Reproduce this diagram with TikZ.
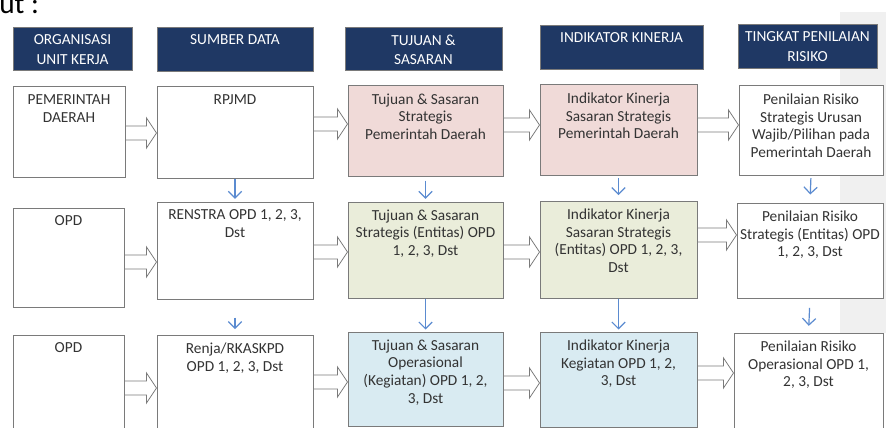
\documentclass[tikz,border=0pt]{standalone}
\usepackage{fontspec}
\setmainfont{Carlito}
\usepackage{tikz}
\usetikzlibrary{calc,arrows.meta}

\definecolor{navy}{HTML}{1F3864}
\definecolor{pinkfill}{HTML}{F0DAD8}
\definecolor{greenfill}{HTML}{EAEDDA}
\definecolor{bluefill}{HTML}{D9EBF2}
\definecolor{edge}{HTML}{7A7A7A}
\definecolor{ink}{HTML}{333333}
\definecolor{arrowblue}{HTML}{5B8BD0}
\definecolor{band}{HTML}{F0F0F0}

\newlength\unitpx
\setlength\unitpx{0.75pt}

% hollow block arrow: from node, to node, y
\newcommand\hollowarrow[3]{%
  \draw[hollow] ($(#1.east |- 0,#3)+(0,-7)$) -- ($(#2.west |- 0,#3)+(-10,-7)$) -- ++(0,-8)
    -- (#2.west |- 0,#3) -- ++(-10,15) -- ++(0,-8) -- ($(#1.east |- 0,#3)+(0,7)$) -- cycle;}

\begin{document}
\begin{tikzpicture}[x=0.75pt, y=-0.75pt,
  head/.style={draw=edge, fill=navy, line width=0.6pt, inner sep=0pt},
  box/.style={draw=edge, fill=white, line width=0.75pt, inner sep=0pt},
  headtext/.style={text=white, align=center, inner sep=0pt, font=\fontsize{11.5}{14.6}\selectfont},
  boxtext/.style={text=ink, align=center, inner sep=0pt, font=\fontsize{11.5}{13.2}\selectfont},
  hollow/.style={draw=edge, fill=white, line width=0.6pt},
  down/.style={draw=arrowblue, line width=0.9pt, -{Straight Barb[length=5pt, width=10pt]}}]
\useasboundingbox (0,0) rectangle (886,428);
\clip (0,0) rectangle (886,428);
\fill[band] (840,12) rectangle (886,333);
\node[anchor=base west, inner sep=0pt, font=\fontsize{22}{22}\selectfont] (Fragment) at (-1,14) {ut :};

% header row
\node[head, minimum width=119\unitpx, minimum height=43\unitpx] (Head1) at (72.5,48.5) {};
\node[head, minimum width=156\unitpx, minimum height=44\unitpx] (Head2) at (235,49) {};
\node[head, minimum width=157\unitpx, minimum height=43\unitpx] (Head3) at (423.5,48.5) {};
\node[head, minimum width=163\unitpx, minimum height=44\unitpx] (Head4) at (621.5,47) {};
\node[head, minimum width=139\unitpx, minimum height=44\unitpx] (Head5) at (807.5,46) {};
\node[headtext, anchor=north] (HeadText1) at ([yshift=-6pt]Head1.north) {ORGANISASI\\UNIT KERJA};
\node[headtext, anchor=north] (HeadText2) at ([yshift=-6pt]Head2.north) {SUMBER DATA};
\node[headtext, anchor=north] (HeadText3) at ([yshift=-6pt]Head3.north) {TUJUAN \&\\SASARAN};
\node[headtext, anchor=north] (HeadText4) at ([yshift=-6pt]Head4.north) {INDIKATOR KINERJA};
\node[headtext, anchor=north] (HeadText5) at ([yshift=-6pt]Head5.north) {TINGKAT PENILAIAN\\RISIKO};

% row 1
\node[box, minimum width=112\unitpx, minimum height=90\unitpx] (Box11) at (69,132) {};
\node[box, minimum width=156\unitpx, minimum height=91\unitpx] (Box12) at (235,132.5) {};
\node[box, fill=pinkfill, minimum width=155\unitpx, minimum height=90\unitpx] (Box13) at (425.5,131) {};
\node[box, fill=pinkfill, minimum width=157\unitpx, minimum height=90\unitpx] (Box14) at (618.5,130) {};
\node[box, minimum width=144\unitpx, minimum height=89\unitpx] (Box15) at (811,130.5) {};

% row 2
\node[box, minimum width=111\unitpx, minimum height=99\unitpx] (Box21) at (68.5,257.5) {};
\node[box, minimum width=156\unitpx, minimum height=97\unitpx] (Box22) at (235,250.5) {};
\node[box, fill=greenfill, minimum width=155\unitpx, minimum height=96\unitpx] (Box23) at (425.5,250) {};
\node[box, fill=greenfill, minimum width=157\unitpx, minimum height=97\unitpx] (Box24) at (618.5,249.5) {};
\node[box, minimum width=146\unitpx, minimum height=95\unitpx] (Box25) at (810,250.5) {};

% row 3
\node[box, minimum width=111\unitpx, minimum height=105\unitpx] (Box31) at (68.5,387.5) {};
\node[box, minimum width=156\unitpx, minimum height=105\unitpx] (Box32) at (235,387.5) {};
\node[box, fill=bluefill, minimum width=155\unitpx, minimum height=94\unitpx] (Box33) at (425.5,379) {};
\node[box, fill=bluefill, minimum width=157\unitpx, minimum height=95\unitpx] (Box34) at (618.5,379.5) {};
\node[box, minimum width=149\unitpx, minimum height=107\unitpx] (Box35) at (808.5,386.5) {};

\node[boxtext, anchor=north] (Text11) at ([yshift=-6pt]Box11.north) {PEMERINTAH\\DAERAH};
\node[boxtext, anchor=north] (Text12) at ([yshift=-6pt]Box12.north) {RPJMD};
\node[boxtext, anchor=north] (Text13) at ([yshift=-6pt]Box13.north) {Tujuan \& Sasaran\\Strategis\\Pemerintah Daerah};
\node[boxtext, anchor=north] (Text14) at ([yshift=-6pt]Box14.north) {Indikator Kinerja\\Sasaran Strategis\\Pemerintah Daerah};
\node[boxtext, anchor=north] (Text15) at ([yshift=-6pt]Box15.north) {Penilaian Risiko\\Strategis Urusan\\Wajib/Pilihan pada\\Pemerintah Daerah};
\node[boxtext, anchor=north] (Text21) at ([yshift=-6pt]Box21.north) {OPD};
\node[boxtext, anchor=north] (Text22) at ([yshift=-6pt]Box22.north) {RENSTRA OPD 1, 2, 3,\\Dst};
\node[boxtext, anchor=north] (Text23) at ([yshift=-6pt]Box23.north) {Tujuan \& Sasaran\\Strategis (Entitas) OPD\\1, 2, 3, Dst};
\node[boxtext, anchor=north] (Text24) at ([yshift=-6pt]Box24.north) {Indikator Kinerja\\Sasaran Strategis\\(Entitas) OPD 1, 2, 3,\\Dst};
\node[boxtext, anchor=north] (Text25) at ([yshift=-6pt]Box25.north) {Penilaian Risiko\\Strategis (Entitas) OPD\\1, 2, 3, Dst};
\node[boxtext, anchor=north] (Text31) at ([yshift=-6pt]Box31.north) {OPD};
\node[boxtext, anchor=north] (Text32) at ([yshift=-6pt]Box32.north) {Renja/RKASKPD\\OPD 1, 2, 3, Dst};
\node[boxtext, anchor=north] (Text33) at ([yshift=-6pt]Box33.north) {Tujuan \& Sasaran\\Operasional\\(Kegiatan) OPD 1, 2,\\3, Dst};
\node[boxtext, anchor=north] (Text34) at ([yshift=-6pt]Box34.north) {Indikator Kinerja\\Kegiatan OPD 1, 2,\\3, Dst};
\node[boxtext, anchor=north] (Text35) at ([yshift=-6pt]Box35.north) {Penilaian Risiko\\Operasional OPD 1,\\2, 3, Dst};

% arrows across
\foreach \a/\b/\y in {Box11/Box12/133,Box12/Box13/124,Box13/Box14/125,Box14/Box15/125,
  Box21/Box22/262,Box22/Box23/252,Box23/Box24/252,Box24/Box25/235,
  Box31/Box32/388,Box32/Box33/382,Box33/Box34/383,Box34/Box35/373}
  \hollowarrow{\a}{\b}{\y};

% arrows down
\foreach \a/\b/\s/\e in {Box12/Box22/0pt/2pt,Box13/Box23/3pt/2pt,Box14/Box24/2pt/4pt,Box15/Box25/2pt/6pt,
  Box22/Box32/13.5pt/4pt,Box23/Box33/0pt/1.5pt,Box24/Box34/0pt/1.5pt,Box25/Box35/7pt/5pt}
  \draw[down, shorten <=\s, shorten >=\e] (\a.south) -- (\b.north);
\end{tikzpicture}
\end{document}
